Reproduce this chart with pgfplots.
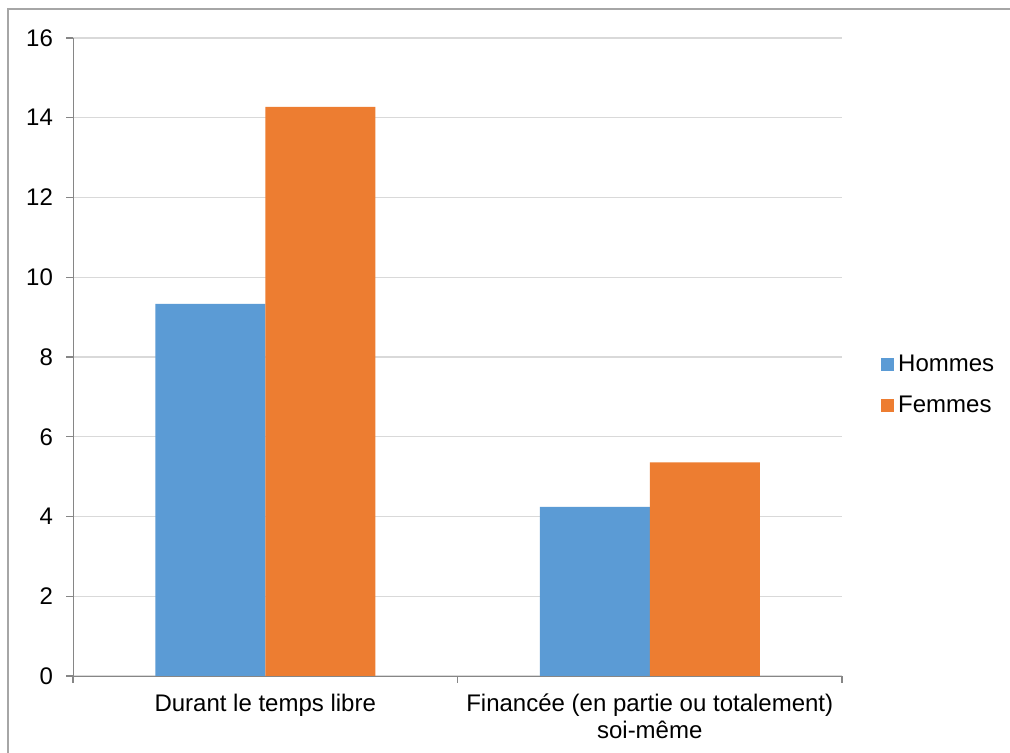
\documentclass[border=0pt]{standalone}
\usepackage{pgfplots}
\pgfplotsset{compat=1.18}
\usepackage{fontspec}
\setmainfont{Liberation Sans}
\definecolor{hommes}{HTML}{5B9BD5}
\definecolor{femmes}{HTML}{ED7D31}
\definecolor{gridc}{HTML}{D9D9D9}
\definecolor{axisc}{HTML}{868686}
\definecolor{framec}{HTML}{A6A6A6}
\begin{document}
\begin{tikzpicture}
\useasboundingbox (0,0) rectangle (505pt,376.5pt);
\fill[white] (0,0) rectangle (505pt,376.5pt);
\draw[framec, line width=1pt] (4pt,-2pt) -- (4pt,372pt) -- (507pt,372pt);
\begin{axis}[
  at={(36.5pt,38.5pt)}, anchor=south west,
  scale only axis,
  width=384.5pt, height=319pt,
  font=\fontsize{12}{13.6}\selectfont,
  /pgf/number format/assume math mode=true,
  ybar=0pt, bar width=55pt,
  xmin=-0.5, xmax=1.5,
  ymin=0, ymax=16,
  ytick={0,2,...,16},
  xtick={-0.5,0.5,1.5},
  x tick label as interval,
  xticklabels={Durant le temps libre, {Financée (en partie ou totalement)\\soi-même}},
  xticklabel style={align=center, yshift=-2pt},
  yticklabel style={xshift=-3pt},
  axis x line*=bottom, axis y line*=left,
  axis line style={axisc, -},
  tick style={axisc, line width=0.6pt},
  tick align=outside,
  major tick length=3.5pt,
  ymajorgrids, grid style={gridc, line width=0.6pt},
  legend style={draw=none, fill=none, at={(1.051,0.456)}, anchor=west,
    font=\fontsize{12}{13.6}\selectfont, row sep=7pt,
    inner sep=0pt, outer sep=0pt},
  legend cell align=left,
  legend image code/.code={\fill[#1] (0pt,-3.25pt) rectangle (6.5pt,3.25pt);},
]
\addplot[fill=hommes, draw=none] coordinates {(0,9.33) (1,4.24)};
\addplot[fill=femmes, draw=none] coordinates {(0,14.27) (1,5.36)};
\legend{Hommes, Femmes}
\end{axis}
\end{tikzpicture}
\end{document}
